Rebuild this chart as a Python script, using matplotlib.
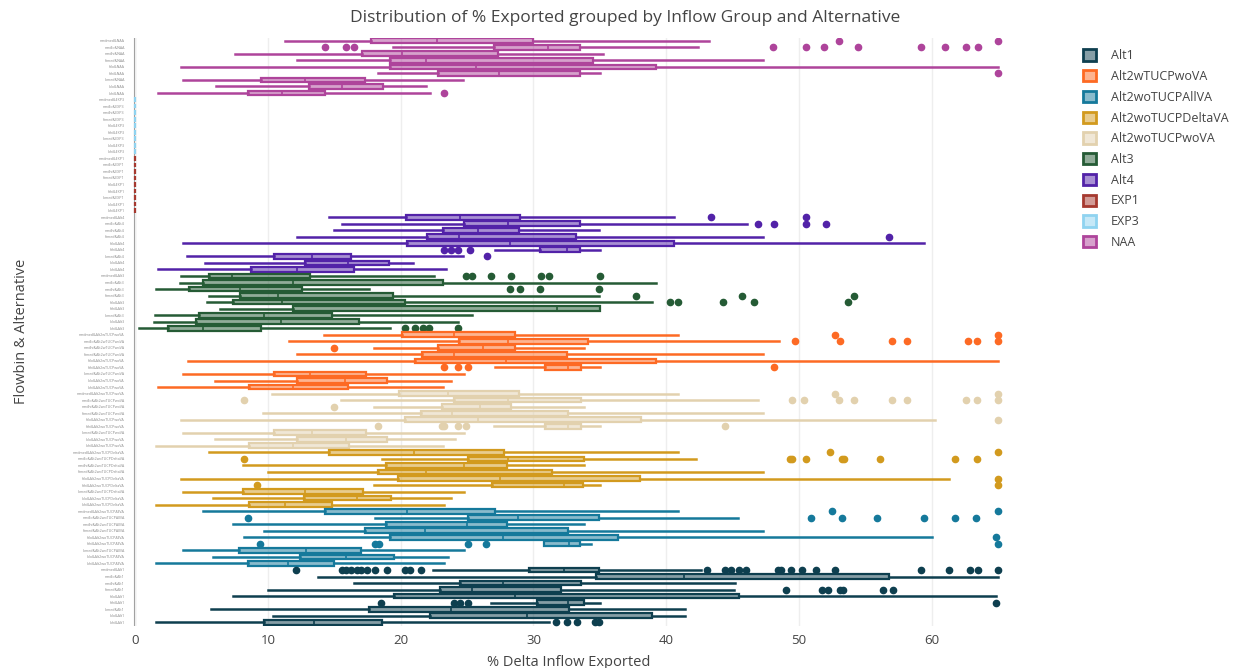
import matplotlib
matplotlib.use("Agg")
import matplotlib.pyplot as plt
from matplotlib.colors import to_rgba
from matplotlib.patches import Patch

plt.rcParams['font.family'] = ['Open Sans', 'DejaVu Sans']

# flow bins, top to bottom inside each alternative block
flowbins = ['medmed', 'medlo', 'medhi', 'himed', 'hilo', 'hihi', 'lomed', 'lolo', 'lohi']

# alternatives, top block to bottom block
alternatives = ['NAA', 'EXP3', 'EXP1', 'Alt4', 'Alt3', 'Alt2wTUCPwoVA',
                'Alt2woTUCPwoVA', 'Alt2woTUCPDeltaVA', 'Alt2woTUCPAllVA', 'Alt1']

legend_order = ['Alt1', 'Alt2wTUCPwoVA', 'Alt2woTUCPAllVA', 'Alt2woTUCPDeltaVA',
                'Alt2woTUCPwoVA', 'Alt3', 'Alt4', 'EXP1', 'EXP3', 'NAA']

colors = {
    'Alt1': '#0e3f4f',
    'Alt2wTUCPwoVA': '#fd6a24',
    'Alt2woTUCPAllVA': '#15799b',
    'Alt2woTUCPDeltaVA': '#d29a1e',
    'Alt2woTUCPwoVA': '#e2d1ae',
    'Alt3': '#255b35',
    'Alt4': '#5222a8',
    'EXP1': '#a6392f',
    'EXP3': '#8fd3f0',
    'NAA': '#ae449b',
}

# (whisker low, q1, median, q3, whisker high) per flow bin
naa_box = [(11.3, 17.8, 22.7, 30.0, 43.2), (19.4, 27.0, 31.1, 33.5, 42.4),
           (7.5, 17.1, 20.1, 27.3, 35.2), (12.2, 19.2, 21.9, 34.5, 47.3),
           (3.5, 19.2, 25.7, 39.2, 65.0), (18.3, 22.8, 27.4, 33.5, 35.0),
           (3.6, 9.5, 12.8, 17.3, 24.7), (6.1, 13.1, 15.6, 18.7, 21.9),
           (1.7, 8.5, 11.1, 14.3, 22.2)]
naa_out = [[53.0, 65.0],
           [14.3, 15.9, 16.5, 48.0, 50.5, 51.9, 54.4, 59.2, 61.0, 62.6, 63.5],
           [], [], [], [65.0], [], [], [23.3]]

exp3_box = [(0, 0, 0, 0, 0)] * 9
exp3_out = [[]] * 9
exp1_box = [(0, 0, 0, 0, 0)] * 9
exp1_out = [[]] * 9

alt4_box = [(14.6, 20.4, 24.5, 29.0, 40.6), (15.6, 24.8, 28.1, 33.5, 46.1),
            (15.0, 23.2, 25.8, 28.9, 34.9), (12.2, 22.0, 24.4, 33.2, 47.3),
            (3.6, 20.5, 28.2, 40.6, 59.4), (27.1, 30.5, 32.5, 33.5, 35.0),
            (3.9, 10.5, 13.3, 16.3, 24.7), (5.3, 12.8, 16.0, 19.1, 20.9),
            (1.7, 8.7, 12.2, 16.5, 23.4)]
alt4_out = [[43.4, 50.5], [46.9, 48.1, 50.5, 52.0], [], [56.8], [],
            [23.3, 23.8, 24.3, 25.2], [26.5], [], []]

alt3_box = [(3.5, 5.6, 7.3, 13.2, 22.5), (3.4, 5.1, 11.9, 23.2, 39.2),
            (1.6, 4.1, 7.9, 12.6, 17.6), (5.6, 7.9, 10.8, 19.4, 34.9),
            (5.4, 7.4, 11.1, 20.3, 38.9), (6.4, 11.9, 31.8, 35.0, 35.0),
            (1.5, 4.8, 9.7, 14.8, 25.4), (1.4, 4.6, 11.0, 16.9, 24.3),
            (0.3, 2.5, 5.1, 9.5, 19.2)]
alt3_out = [[24.9, 25.4, 26.8, 28.3, 30.6, 31.2, 35.0], [],
            [28.2, 29.0, 30.5, 34.9], [37.7, 45.7, 54.1],
            [40.3, 40.9, 44.3, 46.6, 53.7], [], [], [],
            [20.3, 21.1, 21.7, 22.1, 24.3]]

alt2w_box = [(14.2, 20.1, 24.0, 28.6, 40.9), (11.6, 24.4, 28.1, 34.1, 48.5),
             (18.0, 22.8, 26.2, 28.6, 33.8), (12.2, 21.6, 24.0, 32.5, 47.3),
             (4.0, 21.1, 27.9, 39.2, 65.0), (27.1, 30.9, 32.6, 33.6, 35.0),
             (3.6, 10.5, 13.2, 17.4, 24.8), (6.0, 12.2, 15.8, 19.0, 23.8),
             (1.7, 8.6, 11.9, 16.0, 23.2)]
alt2w_out = [[52.7, 65.0], [49.7, 53.1, 57.0, 58.1, 62.7, 63.4, 65.0], [15.0],
             [], [], [23.3, 24.3, 25.1, 48.1], [], [], []]

alt2wo_box = [(10.3, 19.9, 23.6, 28.9, 40.9), (15.5, 24.0, 28.1, 33.6, 46.9),
              (18.0, 23.1, 26.0, 28.3, 33.8), (9.6, 21.5, 23.9, 32.6, 47.3),
              (3.5, 20.3, 25.8, 38.1, 60.2), (27.0, 30.9, 32.6, 33.6, 35.0),
              (3.6, 10.5, 13.3, 17.4, 24.8), (6.0, 12.2, 15.9, 19.0, 24.1),
              (1.6, 8.6, 11.9, 16.1, 23.2)]
alt2wo_out = [[52.7, 65.0],
              [8.2, 49.5, 50.4, 53.0, 54.1, 57.0, 58.1, 62.6, 63.4, 65.0],
              [15.0], [], [65.0], [18.3, 23.1, 23.3, 24.3, 24.9, 44.4],
              [], [], []]

delta_box = [(5.6, 14.6, 21.0, 27.8, 40.9), (18.6, 25.1, 28.1, 33.8, 42.2),
             (8.1, 18.9, 24.8, 28.0, 33.8), (10.0, 18.3, 21.9, 31.4, 47.3),
             (3.5, 19.8, 27.5, 38.0, 61.3), (18.0, 26.9, 32.3, 33.7, 35.0),
             (3.6, 8.1, 12.8, 17.2, 24.8), (5.9, 12.7, 16.7, 19.3, 23.8),
             (1.6, 8.6, 11.3, 14.8, 23.3)]
delta_out = [[52.3, 65.0], [8.2, 49.3, 49.5, 50.5, 53.2, 53.4, 56.1, 61.7, 63.4],
             [], [], [65.0], [9.2, 65.0], [], [], []]

allva_box = [(5.1, 14.3, 20.5, 27.1, 40.9), (18.1, 25.1, 28.8, 34.9, 45.4),
             (7.4, 18.9, 25.0, 28.0, 33.8), (9.7, 17.3, 21.8, 32.6, 47.3),
             (8.2, 19.2, 27.7, 36.4, 60.0), (30.8, 30.8, 32.7, 33.5, 34.3),
             (3.6, 7.8, 12.9, 17.0, 24.8), (5.9, 12.4, 15.9, 19.5, 23.6),
             (1.6, 8.5, 11.5, 15.0, 23.3)]
allva_out = [[52.5, 65.0], [8.5, 50.9, 53.2, 55.9, 59.4, 61.7, 63.3], [], [],
             [64.8], [9.4, 18.1, 18.4, 25.1, 26.4, 65.0], [], [], []]

alt1_box = [(22.4, 29.7, 32.3, 34.9, 42.6), (13.8, 34.7, 41.3, 56.8, 65.0),
            (16.5, 24.5, 27.7, 33.6, 45.2), (10.0, 23.0, 25.4, 32.1, 45.1),
            (7.4, 19.5, 28.6, 45.5, 64.8), (26.8, 30.3, 32.6, 33.8, 35.0),
            (5.7, 17.6, 23.8, 32.7, 41.4), (10.4, 22.2, 29.5, 38.9, 41.4),
            (1.6, 9.7, 13.5, 18.6, 31.2)]
alt1_out = [[12.1, 15.6, 15.9, 16.3, 16.7, 17.0, 17.5, 18.1, 19.0, 20.3, 20.7,
             21.5, 43.1, 44.4, 44.9, 45.5, 46.0, 48.4, 48.6, 49.4, 50.2, 51.3,
             52.7, 59.2, 61.3, 62.9, 63.5, 65.0],
            [], [], [49.0, 51.7, 52.2, 53.1, 53.3, 56.3, 57.1], [],
            [18.5, 24.0, 24.5, 25.1, 64.8], [], [], [31.7, 32.5, 33.3, 34.6, 34.9]]

box_data = {
    'NAA': (naa_box, naa_out), 'EXP3': (exp3_box, exp3_out),
    'EXP1': (exp1_box, exp1_out), 'Alt4': (alt4_box, alt4_out),
    'Alt3': (alt3_box, alt3_out), 'Alt2wTUCPwoVA': (alt2w_box, alt2w_out),
    'Alt2woTUCPwoVA': (alt2wo_box, alt2wo_out),
    'Alt2woTUCPDeltaVA': (delta_box, delta_out),
    'Alt2woTUCPAllVA': (allva_box, allva_out), 'Alt1': (alt1_box, alt1_out),
}

fig = plt.figure(figsize=(12.41, 6.68), dpi=100)
ax = fig.add_axes([133 / 1241, 1 - 625.5 / 668, 872 / 1241, 588 / 668])

labels = []
for a, alt in enumerate(alternatives):
    boxes, outs = box_data[alt]
    c = colors[alt]
    stats = []
    for (lo, q1, med, q3, hi), fl in zip(boxes, outs):
        stats.append(dict(whislo=lo, q1=q1, med=med, q3=q3, whishi=hi, fliers=fl))
    pos = [a * 9 + i for i in range(9)]
    labels += [f'{fb}&{alt}' for fb in flowbins]
    ax.bxp(stats, positions=pos, widths=0.72, orientation='horizontal',
           patch_artist=True, showcaps=False,
           boxprops=dict(facecolor=to_rgba(c, 0.5), edgecolor=c, linewidth=1.6),
           medianprops=dict(color=c, linewidth=1.2),
           whiskerprops=dict(color=c, linewidth=1.8),
           flierprops=dict(marker='o', markerfacecolor=c, markeredgecolor=c,
                           markersize=4.5, linestyle='none'),
           zorder=3)

ax.set_ylim(len(labels) - 0.5, -0.5)
ax.set_xlim(-0.15, 65.5)
ax.set_yticks(range(len(labels)))
ax.set_yticklabels(labels, fontsize=2.6, color='#888888')
ax.set_xticks([0, 10, 20, 30, 40, 50, 60])
ax.tick_params(axis='x', labelsize=9.5, colors='#444444', length=0, pad=6)
ax.tick_params(axis='y', length=0, pad=6)
ax.grid(axis='x', color='#eeeeee', linewidth=1, zorder=0)
ax.axvline(0, color='#444444', linewidth=1.5, alpha=0.6, zorder=1)
for s in ax.spines.values():
    s.set_visible(False)

ax.set_xlabel('% Delta Inflow Exported', fontsize=10.5, color='#444444', labelpad=6)
ax.set_ylabel('Flowbin & Alternative', fontsize=10.5, color='#444444', labelpad=32)
fig.text(625 / 1241, 1 - 18 / 668, 'Distribution of % Exported grouped by Inflow Group and Alternative',
         ha='center', va='center', fontsize=12.5, color='#444444')

handles = [Patch(facecolor=to_rgba(colors[k], 0.5), edgecolor=colors[k], linewidth=2)
           for k in legend_order]
fig.legend(handles, legend_order, loc='upper left', bbox_to_anchor=(1072 / 1241, 1 - 38 / 668),
           frameon=False, fontsize=9, labelspacing=0.62, handlelength=1.0,
           handleheight=1.0, handletextpad=1.2, labelcolor='#444444')

fig.savefig('out.png', dpi=100)
